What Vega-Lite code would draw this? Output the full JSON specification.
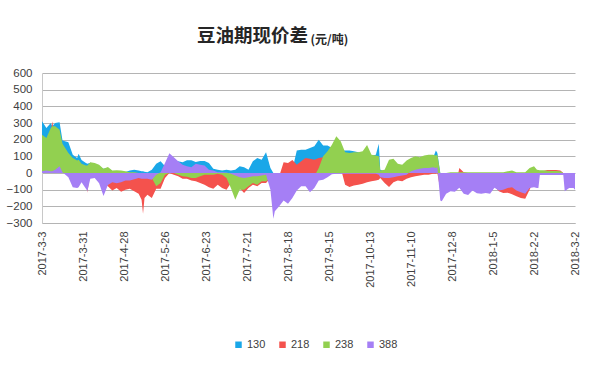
{
"$schema": "https://vega.github.io/schema/vega-lite/v6.json",
"width": 533,
"height": 150,
"autosize": "none",
"padding": {"left": 42, "top": 73, "right": 25, "bottom": 142},
"background": "white",
"title": {"text": "豆油期现价差", "anchor": "start", "frame": "group", "dx": 155, "offset": -31, "fontSize": 18.5, "fontWeight": "bold", "font": "Noto Sans CJK SC", "color": "#262626", "baseline": "bottom"},
"data": {"values": [
{"date":"2017-03-03","130":310,"218":200,"238":230,"388":10},
{"date":"2017-03-06","130":270,"218":180,"238":210,"388":15},
{"date":"2017-03-09","130":300,"218":230,"238":270,"388":10},
{"date":"2017-03-10","130":280,"218":310,"238":280,"388":10},
{"date":"2017-03-12","130":300,"218":200,"238":280,"388":20},
{"date":"2017-03-15","130":305,"218":200,"238":260,"388":40},
{"date":"2017-03-17","130":195,"218":150,"238":175,"388":5},
{"date":"2017-03-21","130":185,"218":100,"238":120,"388":-25},
{"date":"2017-03-24","130":110,"218":60,"238":90,"388":-85},
{"date":"2017-03-27","130":90,"218":40,"238":75,"388":-90},
{"date":"2017-03-28","130":115,"218":40,"238":80,"388":-85},
{"date":"2017-03-30","130":78,"218":30,"238":55,"388":-55},
{"date":"2017-04-02","130":60,"218":20,"238":45,"388":-95},
{"date":"2017-04-03","130":55,"218":-118,"238":45,"388":-108},
{"date":"2017-04-05","130":62,"218":10,"238":65,"388":-35},
{"date":"2017-04-08","130":55,"218":0,"238":60,"388":-30},
{"date":"2017-04-11","130":40,"218":-20,"238":50,"388":-62},
{"date":"2017-04-14","130":25,"218":-60,"238":25,"388":-138},
{"date":"2017-04-17","130":30,"218":-80,"238":36,"388":-72},
{"date":"2017-04-20","130":12,"218":-105,"238":15,"388":-55},
{"date":"2017-04-23","130":10,"218":-90,"238":16,"388":-62},
{"date":"2017-04-26","130":6,"218":-112,"238":15,"388":-55},
{"date":"2017-04-29","130":6,"218":-100,"238":10,"388":-45},
{"date":"2017-05-02","130":15,"218":-95,"238":5,"388":-45},
{"date":"2017-05-05","130":20,"218":-110,"238":5,"388":-38},
{"date":"2017-05-08","130":15,"218":-125,"238":0,"388":-30},
{"date":"2017-05-10","130":10,"218":-160,"238":-10,"388":-35},
{"date":"2017-05-11","130":10,"218":-244,"238":-10,"388":-35},
{"date":"2017-05-12","130":8,"218":-150,"238":-15,"388":-35},
{"date":"2017-05-14","130":5,"218":-130,"238":-20,"388":-35},
{"date":"2017-05-17","130":20,"218":-150,"238":-30,"388":-40},
{"date":"2017-05-20","130":55,"218":-95,"238":-80,"388":-10},
{"date":"2017-05-23","130":70,"218":-95,"238":-60,"388":5},
{"date":"2017-05-26","130":40,"218":-30,"238":-10,"388":60},
{"date":"2017-05-29","130":60,"218":0,"238":0,"388":118},
{"date":"2017-06-01","130":60,"218":-10,"238":0,"388":95},
{"date":"2017-06-04","130":70,"218":-20,"238":-10,"388":70},
{"date":"2017-06-07","130":65,"218":-35,"238":-20,"388":50},
{"date":"2017-06-10","130":76,"218":-35,"238":-22,"388":40},
{"date":"2017-06-13","130":76,"218":-45,"238":-30,"388":35},
{"date":"2017-06-16","130":66,"218":-50,"238":-30,"388":56},
{"date":"2017-06-19","130":72,"218":-60,"238":-20,"388":50},
{"date":"2017-06-22","130":72,"218":-70,"238":-10,"388":45},
{"date":"2017-06-25","130":60,"218":-85,"238":-10,"388":20},
{"date":"2017-06-28","130":25,"218":-95,"238":-10,"388":15},
{"date":"2017-07-01","130":20,"218":-70,"238":-5,"388":5},
{"date":"2017-07-04","130":15,"218":-90,"238":-10,"388":5},
{"date":"2017-07-07","130":20,"218":-100,"238":-30,"388":3},
{"date":"2017-07-10","130":15,"218":-60,"238":-90,"388":-5},
{"date":"2017-07-13","130":20,"218":-80,"238":-160,"388":-15},
{"date":"2017-07-16","130":40,"218":-90,"238":-100,"388":-25},
{"date":"2017-07-19","130":35,"218":-120,"238":-100,"388":-30},
{"date":"2017-07-22","130":20,"218":-90,"238":-80,"388":-25},
{"date":"2017-07-25","130":70,"218":-70,"238":-60,"388":-20},
{"date":"2017-07-28","130":90,"218":-80,"238":-70,"388":-20},
{"date":"2017-07-31","130":80,"218":-60,"238":-50,"388":-15},
{"date":"2017-08-03","130":125,"218":-60,"238":-50,"388":-10},
{"date":"2017-08-06","130":30,"218":-30,"238":-30,"388":-100},
{"date":"2017-08-08","130":0,"218":-20,"238":-20,"388":-275},
{"date":"2017-08-09","130":0,"218":-20,"238":-20,"388":-230},
{"date":"2017-08-12","130":0,"218":-20,"238":-20,"388":-200},
{"date":"2017-08-15","130":0,"218":65,"238":-20,"388":-165},
{"date":"2017-08-18","130":0,"218":60,"238":-20,"388":-185},
{"date":"2017-08-21","130":20,"218":78,"238":-20,"388":-150},
{"date":"2017-08-24","130":135,"218":50,"238":-20,"388":-105},
{"date":"2017-08-27","130":140,"218":70,"238":-20,"388":-80},
{"date":"2017-08-30","130":140,"218":90,"238":-20,"388":-80},
{"date":"2017-09-02","130":150,"218":85,"238":-20,"388":-115},
{"date":"2017-09-05","130":160,"218":80,"238":-20,"388":-90},
{"date":"2017-09-08","130":200,"218":90,"238":30,"388":-45},
{"date":"2017-09-11","130":165,"218":95,"238":100,"388":-40},
{"date":"2017-09-14","130":165,"218":80,"238":130,"388":-25},
{"date":"2017-09-17","130":150,"218":70,"238":170,"388":-8},
{"date":"2017-09-20","130":140,"218":50,"238":220,"388":-5},
{"date":"2017-09-23","130":135,"218":30,"238":190,"388":-5},
{"date":"2017-09-26","130":135,"218":-70,"238":125,"388":-5},
{"date":"2017-09-29","130":135,"218":-84,"238":120,"388":-5},
{"date":"2017-10-02","130":130,"218":-75,"238":125,"388":-5},
{"date":"2017-10-05","130":125,"218":-70,"238":125,"388":-5},
{"date":"2017-10-08","130":120,"218":-65,"238":130,"388":-5},
{"date":"2017-10-11","130":110,"218":-55,"238":168,"388":-5},
{"date":"2017-10-14","130":105,"218":-50,"238":110,"388":-5},
{"date":"2017-10-17","130":110,"218":-45,"238":105,"388":-5},
{"date":"2017-10-19","130":175,"218":-40,"238":100,"388":-10},
{"date":"2017-10-20","130":20,"218":-30,"238":15,"388":-25},
{"date":"2017-10-23","130":10,"218":-60,"238":20,"388":-30},
{"date":"2017-10-26","130":30,"218":-84,"238":80,"388":-30},
{"date":"2017-10-29","130":40,"218":-55,"238":85,"388":-25},
{"date":"2017-11-01","130":30,"218":-45,"238":55,"388":-20},
{"date":"2017-11-04","130":30,"218":-50,"238":50,"388":-15},
{"date":"2017-11-07","130":40,"218":-35,"238":75,"388":-10},
{"date":"2017-11-10","130":50,"218":-25,"238":90,"388":10},
{"date":"2017-11-13","130":60,"218":-20,"238":100,"388":20},
{"date":"2017-11-16","130":60,"218":-15,"238":95,"388":25},
{"date":"2017-11-19","130":70,"218":-10,"238":105,"388":30},
{"date":"2017-11-22","130":80,"218":-10,"238":110,"388":30},
{"date":"2017-11-25","130":90,"218":-5,"238":110,"388":35},
{"date":"2017-11-27","130":135,"218":-5,"238":105,"388":30},
{"date":"2017-11-28","130":120,"218":0,"238":110,"388":35},
{"date":"2017-11-30","130":0,"218":-100,"238":0,"388":-165},
{"date":"2017-12-01","130":0,"218":-120,"238":0,"388":-170},
{"date":"2017-12-04","130":0,"218":-110,"238":0,"388":-125},
{"date":"2017-12-07","130":0,"218":-100,"238":5,"388":-110},
{"date":"2017-12-10","130":0,"218":-100,"238":5,"388":-112},
{"date":"2017-12-13","130":0,"218":30,"238":5,"388":-88},
{"date":"2017-12-16","130":0,"218":5,"238":5,"388":-125},
{"date":"2017-12-19","130":0,"218":0,"238":5,"388":-132},
{"date":"2017-12-22","130":0,"218":0,"238":5,"388":-105},
{"date":"2017-12-25","130":0,"218":-50,"238":5,"388":-122},
{"date":"2017-12-28","130":0,"218":-60,"238":5,"388":-125},
{"date":"2017-12-31","130":0,"218":-60,"238":5,"388":-120},
{"date":"2018-01-03","130":0,"218":-70,"238":5,"388":-125},
{"date":"2018-01-06","130":0,"218":-80,"238":5,"388":-88},
{"date":"2018-01-09","130":0,"218":-110,"238":5,"388":-105},
{"date":"2018-01-12","130":0,"218":-120,"238":5,"388":-100},
{"date":"2018-01-15","130":0,"218":-118,"238":10,"388":-90},
{"date":"2018-01-18","130":0,"218":-128,"238":15,"388":-85},
{"date":"2018-01-21","130":0,"218":-140,"238":5,"388":-105},
{"date":"2018-01-24","130":0,"218":-150,"238":5,"388":-115},
{"date":"2018-01-27","130":0,"218":-155,"238":5,"388":-125},
{"date":"2018-01-30","130":0,"218":-100,"238":30,"388":-90},
{"date":"2018-02-02","130":0,"218":-45,"238":40,"388":-85},
{"date":"2018-02-04","130":0,"218":10,"238":20,"388":-90},
{"date":"2018-02-05","130":0,"218":10,"238":18,"388":-90},
{"date":"2018-02-06","130":0,"218":10,"238":16,"388":-12},
{"date":"2018-02-08","130":0,"218":12,"238":16,"388":-12},
{"date":"2018-02-11","130":0,"218":18,"238":14,"388":-12},
{"date":"2018-02-14","130":0,"218":18,"238":12,"388":-12},
{"date":"2018-02-17","130":0,"218":18,"238":12,"388":-12},
{"date":"2018-02-20","130":0,"218":15,"238":10,"388":-12},
{"date":"2018-02-22","130":0,"218":0,"238":0,"388":-12},
{"date":"2018-02-23","130":0,"218":0,"238":0,"388":-110},
{"date":"2018-02-26","130":0,"218":0,"238":0,"388":-90},
{"date":"2018-03-01","130":0,"218":0,"238":0,"388":-90},
{"date":"2018-03-02","130":0,"218":0,"238":0,"388":-100}
]},
"transform": [{"fold": ["130", "218", "238", "388"], "as": ["series", "value"]}],
"mark": {"type": "area", "interpolate": "linear", "opacity": 1, "fillOpacity": 1},
"encoding": {
  "x": {"field": "date", "type": "temporal",
    "scale": {"type": "utc", "domain": [{"year": 2017, "month": 3, "date": 3, "utc": true}, {"year": 2018, "month": 3, "date": 2, "utc": true}]},
    "axis": {"values": [
      {"year": 2017, "month": 3, "date": 3, "utc": true},
      {"year": 2017, "month": 3, "date": 31, "utc": true},
      {"year": 2017, "month": 4, "date": 28, "utc": true},
      {"year": 2017, "month": 5, "date": 26, "utc": true},
      {"year": 2017, "month": 6, "date": 23, "utc": true},
      {"year": 2017, "month": 7, "date": 21, "utc": true},
      {"year": 2017, "month": 8, "date": 18, "utc": true},
      {"year": 2017, "month": 9, "date": 15, "utc": true},
      {"year": 2017, "month": 10, "date": 13, "utc": true},
      {"year": 2017, "month": 11, "date": 10, "utc": true},
      {"year": 2017, "month": 12, "date": 8, "utc": true},
      {"year": 2018, "month": 1, "date": 5, "utc": true},
      {"year": 2018, "month": 2, "date": 2, "utc": true},
      {"year": 2018, "month": 3, "date": 2, "utc": true}],
      "format": "%Y-%-m-%-d", "labelAngle": -90, "labelAlign": "right", "labelBaseline": "middle",
      "labelPadding": 8, "labelFontSize": 11, "labelColor": "#404040", "ticks": false, "grid": false,
      "domainColor": "#b4b4b4", "title": null, "labelOverlap": false, "labelFlush": false, "labelBound": false}},
  "y": {"field": "value", "type": "quantitative", "stack": null,
    "scale": {"domain": [-300, 600], "nice": false, "zero": false},
    "axis": {"values": [-300, -200, -100, 0, 100, 200, 300, 400, 500, 600],
      "title": "(元/吨)", "titleAngle": 0, "titleX": 268, "titleY": -30, "titleAlign": "left", "titleBaseline": "alphabetic",
      "titleFont": "Noto Sans CJK SC", "titleFontSize": 12, "titleFontWeight": "bold", "titleColor": "#262626",
      "grid": true, "gridColor": "#b4b4b4", "domainColor": "#c8c8c8", "ticks": false, "labelPadding": 10,
      "labelFontSize": 11.5, "labelColor": "#404040"}},
  "color": {"field": "series", "type": "nominal",
    "scale": {"domain": ["130", "218", "238", "388"], "range": ["#1AA7E8", "#F4524D", "#92D050", "#A57FF5"]},
    "legend": {"orient": "none", "legendX": 191, "legendY": 266, "direction": "horizontal", "columns": 4, "title": null,
      "symbolType": "square", "symbolSize": 42, "symbolStrokeWidth": 0, "symbolOpacity": 1,
      "labelFontSize": 11, "labelColor": "#404040", "columnPadding": 11, "labelOffset": 3}}
},
"config": {"view": {"stroke": null}, "font": "Liberation Sans"}
}
